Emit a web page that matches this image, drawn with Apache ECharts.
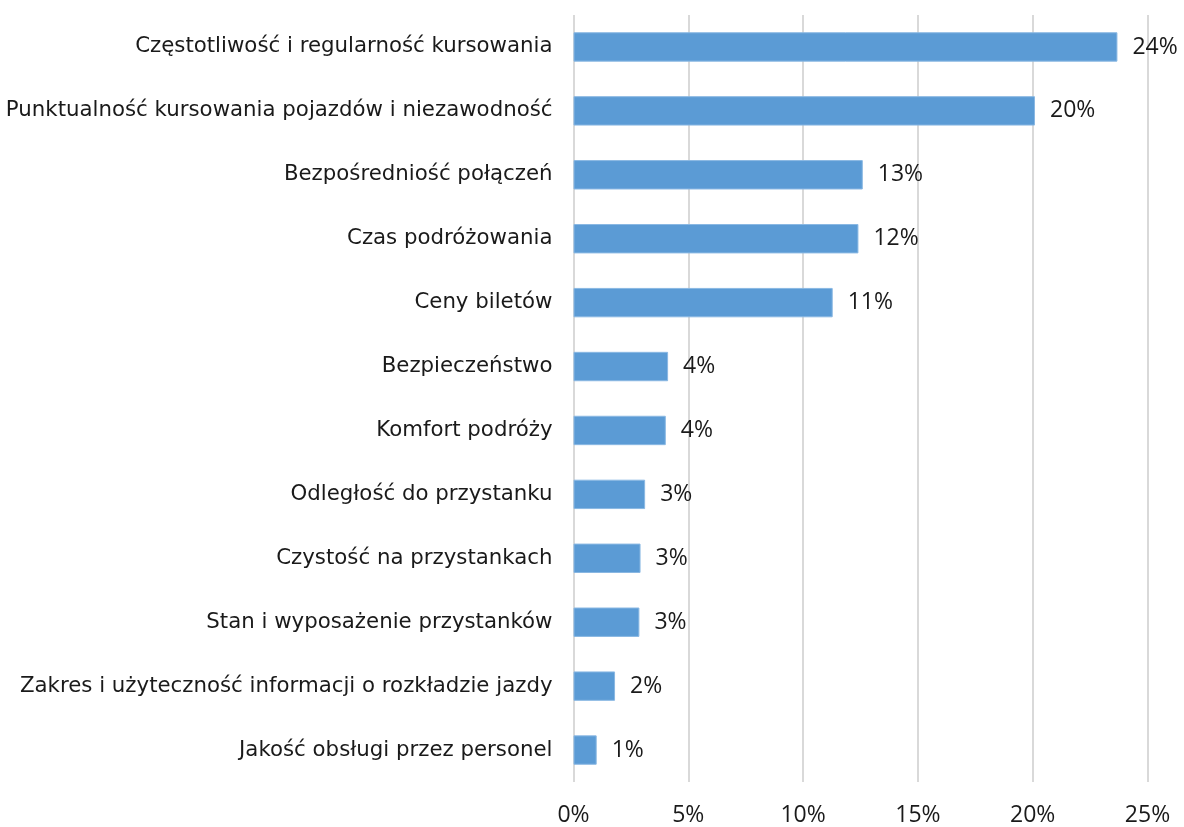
<!DOCTYPE html>
<html>
<head>
<meta charset="utf-8">
<script src="https://cdn.jsdelivr.net/npm/echarts@6/dist/echarts.min.js"></script>
<style>
  html, body { margin: 0; padding: 0; background: #fff; }
  #chart { width: 1184px; height: 827px; }
</style>
</head>
<body>
<div id="chart"></div>
<script>
// kategorie (od góry do dołu)
const categories = [
  'Częstotliwość i regularność kursowania',
  'Punktualność kursowania pojazdów i niezawodność',
  'Bezpośredniość połączeń',
  'Czas podróżowania',
  'Ceny biletów',
  'Bezpieczeństwo',
  'Komfort podróży',
  'Odległość do przystanku',
  'Czystość na przystankach',
  'Stan i wyposażenie przystanków',
  'Zakres i użyteczność informacji o rozkładzie jazdy',
  'Jakość obsługi przez personel'
]
const values = [23.69, 20.1, 12.6, 12.41, 11.29, 4.12, 4.02, 3.12, 2.92, 2.87, 1.81, 1.01]
const xTicks = [0, 5, 10, 15, 20, 25]

const chart = echarts.init(document.getElementById('chart'))

const option = {
  animation: false,
  grid: {
    left: 573.5,
    right: 36.5,
    top: 15,
    bottom: 41.5,
    containLabel: false
  },
  xAxis: {
    type: 'value',
    min: xTicks[0],
    max: xTicks[xTicks.length - 1],
    interval: 5,
    axisLine: { show: false },
    axisTick: { show: false },
    axisLabel: {
      formatter: '{value}%',
      margin: 22,
      fontSize: 23,
      fontFamily: '"Open Sans", "Noto Sans", sans-serif',
      color: '#1a1a1a'
    },
    splitLine: {
      show: true,
      lineStyle: { color: '#d9d9d9', width: 2 }
    }
  },
  yAxis: {
    type: 'category',
    inverse: true,
    data: categories,
    axisLine: { show: false },
    axisTick: { show: false },
    axisLabel: {
      margin: 21,
      fontSize: 21.3,
      fontFamily: '"DejaVu Sans", Verdana, sans-serif',
      color: '#1a1a1a'
    }
  },
  series: [
    {
      type: 'bar',
      data: values,
      barCategoryGap: '54%',
      itemStyle: {
        color: '#5b9bd5',
        borderColor: '#8ab8e3',
        borderWidth: 1
      },
      label: {
        show: true,
        position: 'right',
        distance: 15,
        fontSize: 23,
        fontFamily: '"Open Sans", "Noto Sans", sans-serif',
        color: '#1a1a1a',
        formatter: (p) => Math.round(p.value) + '%'
      }
    }
  ]
}

chart.setOption(option)
</script>
</body>
</html>
